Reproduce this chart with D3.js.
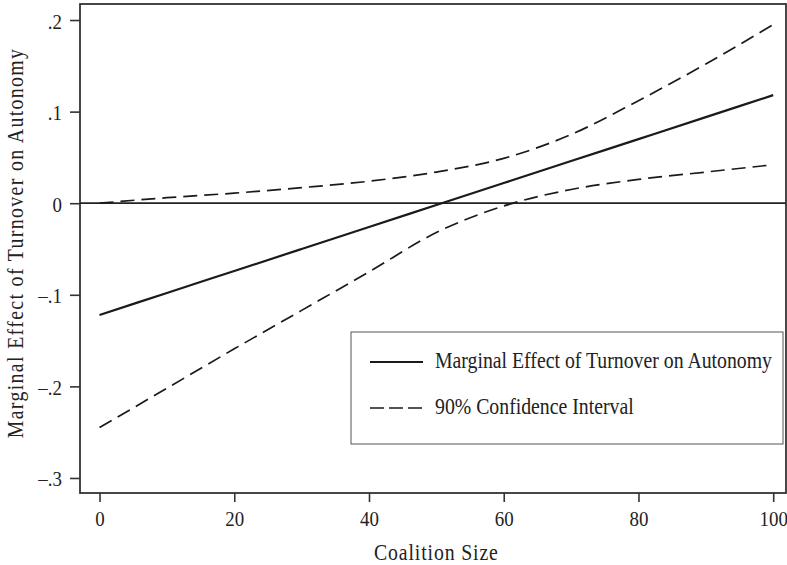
<!DOCTYPE html>
<html>
<head>
<meta charset="utf-8">
<script src="https://cdn.jsdelivr.net/npm/d3@7"></script>
<style>
  body { margin: 0; background: #fff; }
  text { font-family: "Liberation Serif", "DejaVu Serif", serif; fill: #222; }
</style>
</head>
<body>
<div id="chart"></div>
<script>
const coalition = [0, 10, 20, 30, 40, 50, 60, 70, 80, 90, 100];
const effect = [-0.122, -0.098, -0.074, -0.050, -0.026, -0.002, 0.022, 0.046, 0.070, 0.094, 0.118];
const upper = [0.000, 0.006, 0.011, 0.017, 0.024, 0.034, 0.049, 0.075, 0.112, 0.152, 0.195];
const lower = [-0.245, -0.202, -0.159, -0.117, -0.075, -0.032, -0.003, 0.015, 0.026, 0.034, 0.042];
const xTicks = [0, 20, 40, 60, 80, 100];
const yTicks = [0.2, 0.1, 0, -0.1, -0.2, -0.3];
const yTickLabels = [".2", ".1", "0", "\u2013.1", "\u2013.2", "\u2013.3"];

let w = 787;
let h = 565;
let plotLeft = 80;
let plotRight = 786;
let plotTop = 4;
let plotBottom = 493;
let fontSize = 23;
let tickFontSize = 22;
let squeeze = 0.86; // the reference type is narrower than Liberation Serif

let x = d3.scaleLinear().domain([-2.9, 101.9]).range([plotLeft, plotRight]);
let y = d3.scaleLinear().domain([-0.3164, 0.2175]).range([plotBottom, plotTop]);

let svg = d3.select("#chart").append("svg").attr("width", w).attr("height", h);

let xAxis = d3.axisBottom(x).tickValues(xTicks).tickSize(9);
let yAxis = d3
  .axisLeft(y)
  .tickValues(yTicks)
  .tickSize(10)
  .tickFormat(function (d, i) {
    return yTickLabels[i];
  });

function styleAxis(g) {
  g.select(".domain").remove();
  g.selectAll("line").attr("stroke", "#333").attr("stroke-width", 1.6);
  g.selectAll("text")
    .attr("font-size", tickFontSize)
    .attr("font-family", "Liberation Serif")
    .attr("fill", "#222")
    .attr("transform", `scale(${squeeze},1)`);
}

svg
  .append("g")
  .attr("transform", `translate(0,${plotBottom})`)
  .call(xAxis)
  .call(styleAxis)
  .selectAll("text")
  .attr("y", 33)
  .attr("dy", 0);

svg
  .append("g")
  .attr("transform", `translate(${plotLeft},0)`)
  .call(yAxis)
  .call(styleAxis)
  .selectAll("text")
  .attr("x", -18 / squeeze)
  .attr("dy", 8);

// plot frame
svg
  .append("rect")
  .attr("x", plotLeft)
  .attr("y", plotTop)
  .attr("width", plotRight - plotLeft)
  .attr("height", plotBottom - plotTop)
  .attr("fill", "none")
  .attr("stroke", "#333")
  .attr("stroke-width", 1.8);

// zero reference line
svg
  .append("line")
  .attr("x1", plotLeft)
  .attr("x2", plotRight)
  .attr("y1", y(0))
  .attr("y2", y(0))
  .attr("stroke", "#222")
  .attr("stroke-width", 1.8);

let line = d3
  .line()
  .x(function (d) {
    return x(d[0]);
  })
  .y(function (d) {
    return y(d[1]);
  })
  .curve(d3.curveMonotoneX);

function pairs(values) {
  return coalition.map(function (c, i) {
    return [c, values[i]];
  });
}

[upper, lower].forEach(function (series) {
  svg
    .append("path")
    .datum(pairs(series))
    .attr("d", line)
    .attr("fill", "none")
    .attr("stroke", "#1a1a1a")
    .attr("stroke-width", 1.7)
    .attr("stroke-dasharray", "14,7");
});

svg
  .append("path")
  .datum(pairs(effect))
  .attr("d", line)
  .attr("fill", "none")
  .attr("stroke", "#1a1a1a")
  .attr("stroke-width", 2.2);

function label(px, py, str) {
  return svg
    .append("text")
    .attr("transform", `translate(${px},${py}) scale(${squeeze},1)`)
    .attr("font-size", fontSize)
    .text(str);
}

// legend
svg
  .append("rect")
  .attr("x", 351)
  .attr("y", 332)
  .attr("width", 432)
  .attr("height", 112)
  .attr("fill", "#fff")
  .attr("stroke", "#555")
  .attr("stroke-width", 1);

let legendItems = [
  { label: "Marginal Effect of Turnover on Autonomy", dash: null, width: 2.2 },
  { label: "90% Confidence Interval", dash: "14,5", width: 1.7 },
];

legendItems.forEach(function (d, i) {
  let ly = 362 + i * 46;
  svg
    .append("line")
    .attr("x1", 370)
    .attr("x2", 423)
    .attr("y1", ly)
    .attr("y2", ly)
    .attr("stroke", "#1a1a1a")
    .attr("stroke-width", d.width)
    .attr("stroke-dasharray", d.dash);
  label(435, ly + 6, d.label);
});

// axis titles
label(x(50), 560, "Coalition Size")
  .attr("text-anchor", "middle")
  .attr("letter-spacing", 1);

svg
  .append("text")
  .attr("transform", `translate(23,243) rotate(-90) scale(${squeeze},1)`)
  .attr("text-anchor", "middle")
  .attr("font-size", fontSize)
  .attr("letter-spacing", 1.6)
  .text("Marginal Effect of Turnover on Autonomy");
</script>
</body>
</html>
